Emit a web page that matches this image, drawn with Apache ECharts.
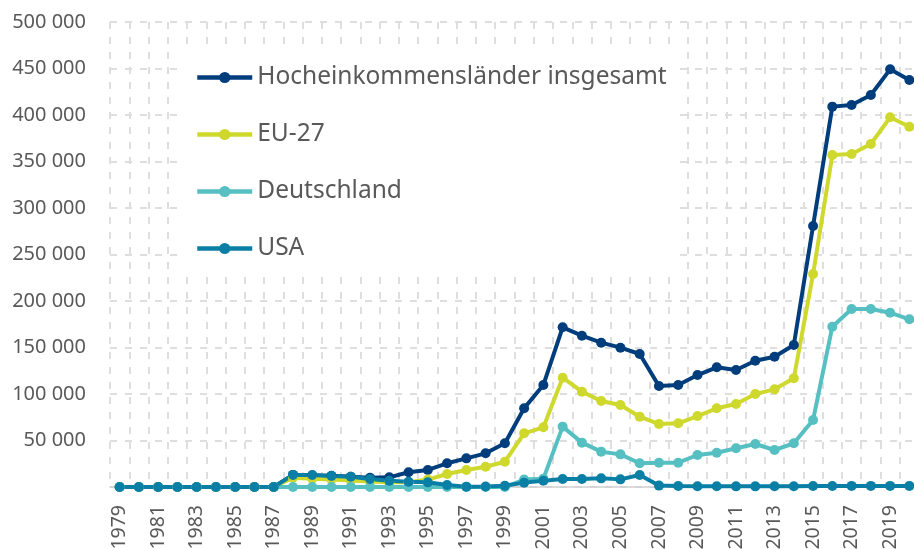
<!DOCTYPE html>
<html lang="de">

<head>
    <meta charset="UTF-8">
    <title>Hocheinkommensländer</title>
    <script src="https://cdn.jsdelivr.net/npm/echarts@6/dist/echarts.min.js"></script>
    <style>
        html, body { margin: 0; padding: 0; background: #fff; }
        #chart { width: 914px; height: 549px; }
    </style>
</head>

<body>
    <div id="chart"></div>
    <script>
        // Jahre 1979 - 2020
        const years = [];
        for (let y = 1979; y <= 2020; y++) years.push(String(y));

        const seriesNames = ['Hocheinkommensländer insgesamt', 'EU-27', 'Deutschland', 'USA'];

        const hocheinkommen = [0, 0, 0, 0, 0, 0, 0, 0, 0,
            13000, 12500, 12000, 11000, 10000, 10400, 15800, 18300, 25500, 30800, 36200, 47000,
            84600, 109700, 171700, 162700, 155200, 149800, 143000, 108600, 109700, 120400,
            128700, 125800, 135800, 140100, 152700, 280600, 409000, 410800, 421500, 449100, 437600];

        const eu27 = [0, 0, 0, 0, 0, 0, 0, 0, 0,
            10000, 9000, 8000, 7000, 6000, 5000, 5000, 8000, 14000, 18300, 21800, 27200,
            57700, 64200, 117500, 102500, 92500, 88200, 75600, 67700, 68500, 76300,
            84600, 89200, 100000, 105000, 116900, 229000, 357000, 358100, 368800, 397500, 387400];

        const deutschland = [0, 0, 0, 0, 0, 0, 0, 0, 0,
            0, 0, 0, 0, 0, 0, 0, 0, 0, 0, 0, 0,
            8000, 9000, 64900, 47700, 38000, 35100, 25500, 26100, 26100, 34400,
            36900, 41600, 46200, 39800, 47000, 72000, 172400, 191400, 191400, 187400, 180300];

        const usa = [0, 0, 0, 0, 0, 0, 0, 0, 0,
            13000, 12900, 11800, 11100, 8600, 6800, 5700, 5000, 2100, 400, 500, 1400,
            4700, 6800, 8600, 8600, 9300, 8200, 12900, 1500, 1000, 800,
            800, 700, 700, 800, 800, 1000, 1000, 1200, 1200, 1200, 1200];

        const colors = ['#003d7c', '#cfd82c', '#55bfc2', '#0a7fa6'];

        function fmt(v) {
            if (v === 0) return '';
            return String(v).replace(/\B(?=(\d{3})+(?!\d))/g, ' ');
        }

        const myChart = echarts.init(document.getElementById('chart'));

        const gridDash = {
            show: true,
            lineStyle: { color: '#dedede', width: 2, type: [7, 8] }
        };

        function makeSeries(name, data, color) {
            return {
                name: name,
                type: 'line',
                data: data,
                symbol: 'circle',
                symbolSize: 10,
                color: color,
                lineStyle: { width: 4, color: color },
                itemStyle: { color: color }
            };
        }

        const option = {
            animation: false,
            textStyle: { fontFamily: 'Noto Sans' },
            grid: { left: 110, right: -5, top: 22, bottom: 62, outerBoundsMode: 'none', containLabel: false },
            legend: {
                orient: 'vertical',
                left: 185,
                top: 45,
                padding: [20, 6, 14, 10],
                backgroundColor: '#fff',
                itemWidth: 55,
                itemHeight: 14,
                itemGap: 32,
                lineStyle: { width: 4.5 },
                textStyle: { fontSize: 24.5, color: '#595959', fontFamily: 'Noto Sans' },
                data: seriesNames
            },
            xAxis: {
                type: 'category',
                data: years,
                boundaryGap: true,
                axisLine: { show: true, lineStyle: { color: '#d0d0d0', width: 1.5 } },
                axisTick: { show: false },
                axisLabel: {
                    interval: 1,
                    rotate: 90,
                    margin: 18,
                    fontSize: 19.5,
                    color: '#595959',
                    fontFamily: 'Noto Sans'
                },
                splitLine: Object.assign({ interval: 0 }, gridDash)
            },
            yAxis: {
                type: 'value',
                min: 0,
                max: 500000,
                interval: 50000,
                axisLine: { show: false },
                axisTick: { show: false },
                axisLabel: {
                    formatter: fmt,
                    margin: 24,
                    fontSize: 20,
                    color: '#595959',
                    fontFamily: 'Noto Sans'
                },
                splitLine: gridDash
            },
            series: [
                makeSeries(seriesNames[0], hocheinkommen, colors[0]),
                makeSeries(seriesNames[1], eu27, colors[1]),
                makeSeries(seriesNames[2], deutschland, colors[2]),
                makeSeries(seriesNames[3], usa, colors[3])
            ]
        };

        myChart.setOption(option);
    </script>
</body>

</html>
